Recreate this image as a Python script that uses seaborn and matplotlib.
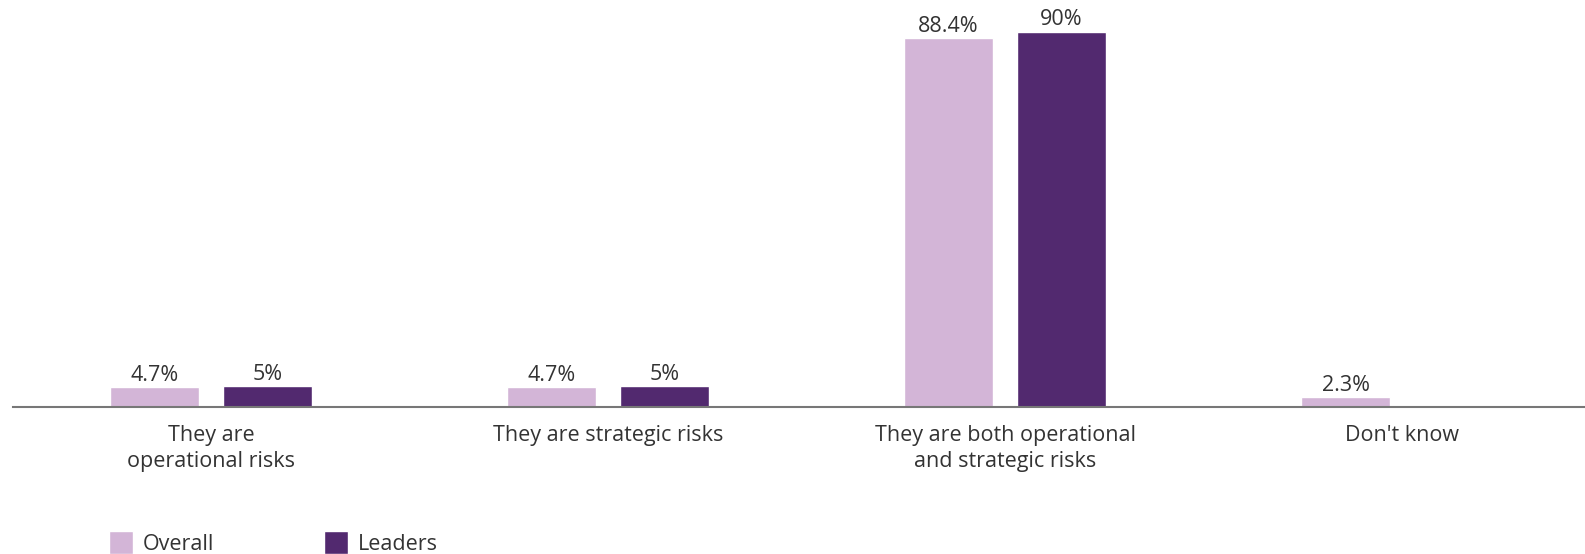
import matplotlib
matplotlib.use("Agg")
import matplotlib.pyplot as plt
import seaborn as sns
import pandas as pd

categories = ["They are\noperational risks", "They are strategic risks",
              "They are both operational\nand strategic risks", "Don't know"]
overall = [4.7, 4.7, 88.4, 2.3]
leaders = [5, 5, 90, None]
series_names = ["Overall", "Leaders"]
colors = ["#D3B5D7", "#52296F"]
overall_labels = ["4.7%", "4.7%", "88.4%", "2.3%"]
leaders_labels = ["5%", "5%", "90%"]

rows = []
for i, c in enumerate(categories):
    rows.append({"category": c, "series": "Overall", "value": overall[i]})
    if leaders[i] is not None:
        rows.append({"category": c, "series": "Leaders", "value": leaders[i]})
df = pd.DataFrame(rows)

sns.set_theme(style="white")
plt.rcParams["font.family"] = ["Open Sans", "DejaVu Sans"]
text_color = "#333333"

fig = plt.figure(figsize=(15.85, 5.54), dpi=100)
ax = fig.add_axes([13 / 1585, (554 - 407) / 554, 1 - 13 / 1585, 407 / 554])

sns.barplot(data=df, x="category", y="value", hue="series", order=categories,
            hue_order=series_names, palette=colors, width=0.569, gap=0.213,
            saturation=1, ax=ax, legend=True, err_kws={"linewidth": 0})

for cont, labels in zip(ax.containers, [overall_labels, leaders_labels]):
    ax.bar_label(cont, labels=labels[:len(cont)], padding=1,
                 fontsize=15.5, color=text_color)

ax.set_xlim(-0.499, 3.461)
ax.set_ylim(0, 97.6)
ax.set_xlabel("")
ax.set_ylabel("")
ax.set_yticks([])
for s in ["top", "right", "left"]:
    ax.spines[s].set_visible(False)
ax.spines["bottom"].set_color("#777777")
ax.spines["bottom"].set_linewidth(1.5)
ax.tick_params(axis="x", length=0, pad=13, labelsize=15.5, labelcolor=text_color)
for t in ax.get_xticklabels():
    t.set_linespacing(1.3)

handles, labels = ax.get_legend_handles_labels()
ax.get_legend().remove()
fig.legend(handles, labels, loc="upper left",
           bbox_to_anchor=(109 / 1585, (554 - 531) / 554), ncol=2,
           frameon=False, fontsize=15.5, handlelength=1.12, handleheight=1.27,
           handletextpad=0.45, columnspacing=5.1, borderpad=0, borderaxespad=0,
           labelcolor=text_color)

fig.savefig("out.png", dpi=100, facecolor="white")
